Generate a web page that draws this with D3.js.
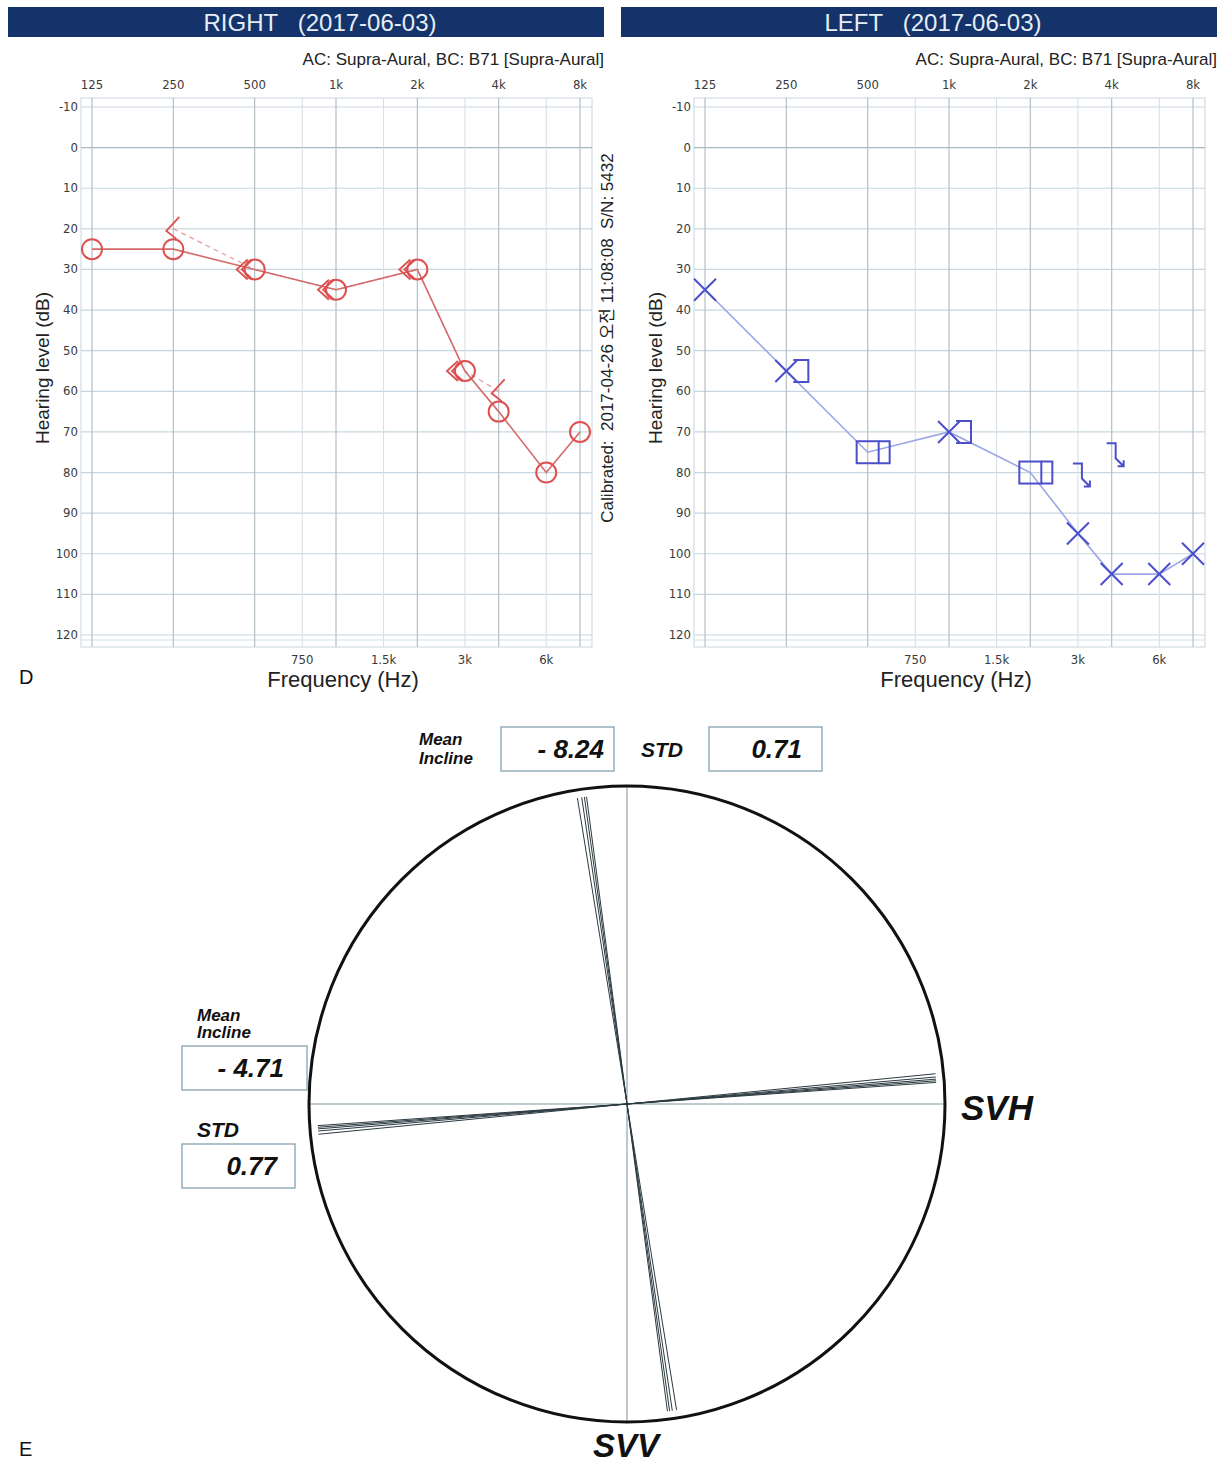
<!doctype html>
<html lang="en">
<head>
  <meta charset="utf-8" />
  <title>Audiogram and SVV / SVH</title>
  <script src="https://d3js.org/d3.v7.min.js"></script>
  <style>
    body { margin: 0; background: #fff; }
    .tick-lbl { font-family: "DejaVu Sans Condensed", "DejaVu Sans", sans-serif; font-stretch: condensed; font-size: 13px; fill: #3a3a3a; }
    .hdr { font-family: "Liberation Sans", Arial, sans-serif; font-size: 24px; fill: #e6edf5; }
    .sub { font-family: "Liberation Sans", Arial, sans-serif; font-size: 17px; fill: #222; }
    .axis-title { font-family: "Liberation Sans", Arial, sans-serif; font-size: 22px; fill: #222; }
    .ylab { font-family: "Liberation Sans", Arial, sans-serif; font-size: 19px; fill: #222; }
    .cal { font-family: "Liberation Sans", "Noto Sans CJK KR", sans-serif; font-size: 17px; fill: #222; }
    .bi { font-family: "Liberation Sans", Arial, sans-serif; font-weight: bold; font-style: italic; fill: #111; }
    .panel { font-family: "Liberation Sans", Arial, sans-serif; font-size: 20px; fill: #111; }
  </style>
</head>
<body>
<script>

// ---- data ----
var freqs = [125, 250, 500, 1000, 2000, 3000, 4000, 6000, 8000];
var topTicks = [125, 250, 500, 1000, 2000, 4000, 8000];
var topTickLabels = ["125", "250", "500", "1k", "2k", "4k", "8k"];
var midTicks = [750, 1500, 3000, 6000];
var midTickLabels = ["750", "1.5k", "3k", "6k"];
var dbTicks = [-10, 0, 10, 20, 30, 40, 50, 60, 70, 80, 90, 100, 110, 120];

var rightAC = [25, 25, 30, 35, 30, 55, 65, 80, 70];
var rightBC = [null, 20, 30, 35, 30, 55, 60, null, null];

var leftAC = [35, 55, 75, 70, 80, 95, 105, 105, 100];
var leftACMasked = [0, 0, 1, 0, 1, 0, 0, 0, 0];
var leftBCMasked = [null, 55, 75, 70, 80, 80, 75, null, null];
var leftBCNoResp = [0, 0, 0, 0, 0, 1, 1, 0, 0];

var svvAngles = [-7.5, -7.9, -8.4, -9.2];
var svhAngles = [-4.0, -4.3, -4.6, -5.0, -5.6];
var svvMean = "- 8.24", svvStd = "0.71";
var svhMean = "- 4.71", svhStd = "0.77";

var W = 1223, H = 1468;
var svg = d3.select("body").append("svg")
  .attr("width", W).attr("height", H);

// ---- audiogram panels ----
function panel(ox, title, ear) {
  var g = svg.append("g").attr("transform", "translate(" + ox + ",0)");

  var x = d3.scaleLog().base(2).domain([125, 8000]).range([92, 580]);
  var y = d3.scaleLinear().domain([-10, 120]).range([107, 635]);

  g.append("rect").attr("x", 8).attr("y", 7).attr("width", 596).attr("height", 30)
    .attr("fill", "#13336a");
  g.append("text").attr("class", "hdr").attr("x", 320).attr("y", 31)
    .attr("text-anchor", "middle").attr("xml:space", "preserve").text(title);
  g.append("text").attr("class", "sub").attr("x", 604).attr("y", 65)
    .attr("text-anchor", "end").text("AC: Supra-Aural, BC: B71 [Supra-Aural]");

  g.append("rect").attr("x", 81).attr("y", 98).attr("width", 511).attr("height", 549)
    .attr("fill", "none").attr("stroke", "#c9d6df");

  g.selectAll(".hg").data(dbTicks).enter().append("line")
    .attr("x1", 81).attr("x2", 592)
    .attr("y1", function(d) { return y(d); }).attr("y2", function(d) { return y(d); })
    .attr("stroke", function(d) { return d === 0 ? "#aab6be" : "#c9d6df"; })
    .attr("stroke-width", 1.2);
  g.append("line").attr("x1", 81).attr("x2", 592).attr("y1", y(120) + 5).attr("y2", y(120) + 5)
    .attr("stroke", "#d5dfe6");

  g.selectAll(".vg").data(topTicks).enter().append("line")
    .attr("x1", function(d) { return x(d); }).attr("x2", function(d) { return x(d); })
    .attr("y1", 98).attr("y2", 647).attr("stroke", "#b4c0c8").attr("stroke-width", 1.2);
  g.selectAll(".vm").data(midTicks).enter().append("line")
    .attr("x1", function(d) { return x(d); }).attr("x2", function(d) { return x(d); })
    .attr("y1", 98).attr("y2", 647).attr("stroke", "#d3dee6");

  g.selectAll(".tt").data(topTicks).enter().append("text").attr("class", "tick-lbl")
    .attr("x", function(d) { return x(d); }).attr("y", 89).attr("text-anchor", "middle")
    .text(function(d, i) { return topTickLabels[i]; });
  g.selectAll(".mt").data(midTicks).enter().append("text").attr("class", "tick-lbl")
    .attr("x", function(d) { return x(d); }).attr("y", 664).attr("text-anchor", "middle")
    .text(function(d, i) { return midTickLabels[i]; });
  g.selectAll(".yt").data(dbTicks).enter().append("text").attr("class", "tick-lbl")
    .attr("x", 78).attr("y", function(d) { return y(d) + 4; }).attr("text-anchor", "end")
    .text(function(d) { return d; });

  g.append("text").attr("class", "axis-title").attr("x", 343).attr("y", 687)
    .attr("text-anchor", "middle").text("Frequency (Hz)");
  g.append("text").attr("class", "ylab").attr("transform", "translate(49,368) rotate(-90)")
    .attr("text-anchor", "middle").text("Hearing level (dB)");

  var line = d3.line()
    .defined(function(d) { return d.v != null; })
    .x(function(d) { return x(d.f); }).y(function(d) { return y(d.v); });

  if (ear === "R") {
    var red = "#dd5050";
    var ac = freqs.map(function(f, i) { return { f: f, v: rightAC[i] }; });
    var bc = freqs.map(function(f, i) { return { f: f, v: rightBC[i], ac: rightAC[i] }; })
      .filter(function(d) { return d.v != null; });

    g.append("path").datum(bc).attr("d", line).attr("fill", "none")
      .attr("stroke", "#e39a9a").attr("stroke-width", 1.2).attr("stroke-dasharray", "5,4");
    g.append("path").datum(ac).attr("d", line).attr("fill", "none")
      .attr("stroke", "#d56a6a").attr("stroke-width", 1.6);

    g.selectAll(".ac").data(ac).enter().append("circle")
      .attr("cx", function(d) { return x(d.f); }).attr("cy", function(d) { return y(d.v); })
      .attr("r", 10).attr("fill", "none").attr("stroke", red).attr("stroke-width", 2);

    g.selectAll(".bc").data(bc).enter().append("path")
      .attr("d", function(d) {
        var cx = x(d.f), cy = y(d.v);
        if (d.v === d.ac) {
          var t = cx - 18;
          return "M" + (t + 11) + "," + (cy - 10) + "L" + t + "," + cy + "L" + (t + 11) + "," + (cy + 10) +
            "M" + (t + 16) + "," + (cy - 10) + "L" + (t + 5) + "," + cy + "L" + (t + 16) + "," + (cy + 10);
        }
        return "M" + (cx + 6) + "," + (cy - 12) + "L" + (cx - 7) + "," + (cy + 2) + "L" + (cx + 3) + "," + (cy + 10);
      })
      .attr("fill", "none").attr("stroke", red).attr("stroke-width", 1.8);
  } else {
    var blue = "#4b4fc9";
    var acL = freqs.map(function(f, i) { return { f: f, v: leftAC[i], m: leftACMasked[i] }; });
    var bcL = freqs.map(function(f, i) { return { f: f, v: leftBCMasked[i], nr: leftBCNoResp[i], ac: leftAC[i] }; })
      .filter(function(d) { return d.v != null; });

    g.append("path").datum(acL).attr("d", line).attr("fill", "none")
      .attr("stroke", "#9aa6e6").attr("stroke-width", 1.6);

    g.selectAll(".xm").data(acL.filter(function(d) { return !d.m; })).enter().append("path")
      .attr("d", function(d) {
        var cx = x(d.f), cy = y(d.v), s = 11;
        return "M" + (cx - s) + "," + (cy - s) + "L" + (cx + s) + "," + (cy + s) +
          "M" + (cx + s) + "," + (cy - s) + "L" + (cx - s) + "," + (cy + s);
      })
      .attr("stroke", blue).attr("stroke-width", 2).attr("fill", "none");

    g.selectAll(".sq").data(acL.filter(function(d) { return d.m; })).enter().append("rect")
      .attr("x", function(d) { return x(d.f) - 11; }).attr("y", function(d) { return y(d.v) - 11; })
      .attr("width", 22).attr("height", 22).attr("fill", "none")
      .attr("stroke", blue).attr("stroke-width", 2);

    g.selectAll(".br").data(bcL).enter().append("path")
      .attr("d", function(d) {
        var cx = x(d.f), cy = y(d.v);
        if (d.nr) {
          return "M" + (cx - 5) + "," + (cy - 9) + "H" + (cx + 4) + "V" + (cy + 6) +
            "L" + (cx + 12) + "," + (cy + 14) + "M" + (cx + 6) + "," + (cy + 14) + "H" + (cx + 12) + "V" + (cy + 8);
        }
        var l = d.ac === d.v && leftACMasked[freqs.indexOf(d.f)] ? cx + 11 : cx + 7;
        return "M" + l + "," + (cy - 11) + "H" + (cx + 22) + "V" + (cy + 11) + "H" + l;
      })
      .attr("fill", "none").attr("stroke", blue).attr("stroke-width", 2);
  }
  return g;
}

panel(0, "RIGHT   (2017-06-03)", "R");
panel(613, "LEFT   (2017-06-03)", "L");

svg.append("text").attr("class", "cal").attr("transform", "translate(613,338) rotate(-90)")
  .attr("text-anchor", "middle").attr("xml:space", "preserve")
  .text("Calibrated:  2017-04-26 오전 11:08:08  S/N: 5432");

svg.append("text").attr("class", "panel").attr("x", 19).attr("y", 684).text("D");
svg.append("text").attr("class", "panel").attr("x", 19).attr("y", 1456).text("E");

// ---- SVV / SVH circle ----
var cx = 627, cy = 1104, R = 318;
var rLine = d3.scaleLinear().domain([-1, 1]).range([-310, 310]);

svg.append("line").attr("x1", cx - R).attr("x2", cx + R).attr("y1", cy).attr("y2", cy)
  .attr("stroke", "#7f9aa6").attr("stroke-width", 1.2);
svg.append("line").attr("x1", cx).attr("x2", cx).attr("y1", cy - R).attr("y2", cy + R)
  .attr("stroke", "#8fa3ac").attr("stroke-width", 1.2);

svg.selectAll(".svv").data(svvAngles).enter().append("line")
  .attr("x1", function(a) { return cx + rLine(Math.sin(a * Math.PI / 180)); })
  .attr("y1", function(a) { return cy - rLine(Math.cos(a * Math.PI / 180)); })
  .attr("x2", function(a) { return cx - rLine(Math.sin(a * Math.PI / 180)); })
  .attr("y2", function(a) { return cy + rLine(Math.cos(a * Math.PI / 180)); })
  .attr("stroke", "#2b3a40").attr("stroke-width", 1);

svg.selectAll(".svh").data(svhAngles).enter().append("line")
  .attr("x1", function(a) { return cx - rLine(Math.cos(a * Math.PI / 180)); })
  .attr("y1", function(a) { return cy - rLine(Math.sin(a * Math.PI / 180)); })
  .attr("x2", function(a) { return cx + rLine(Math.cos(a * Math.PI / 180)); })
  .attr("y2", function(a) { return cy + rLine(Math.sin(a * Math.PI / 180)); })
  .attr("stroke", "#2b3a40").attr("stroke-width", 1);

svg.append("circle").attr("cx", cx).attr("cy", cy).attr("r", R)
  .attr("fill", "none").attr("stroke", "#111").attr("stroke-width", 3);

function box(x0, y0, w, h, txt, tx) {
  svg.append("rect").attr("x", x0).attr("y", y0).attr("width", w).attr("height", h)
    .attr("fill", "#fff").attr("stroke", "#86a3b2").attr("stroke-width", 1.3);
  svg.append("text").attr("class", "bi").attr("x", tx).attr("y", y0 + h / 2 + 9)
    .attr("text-anchor", "end").style("font-size", "26px").text(txt);
}

svg.append("text").attr("class", "bi").attr("x", 419).attr("y", 745).style("font-size", "17px").text("Mean");
svg.append("text").attr("class", "bi").attr("x", 419).attr("y", 764).style("font-size", "17px").text("Incline");
box(501, 727, 113, 44, svvMean, 604);
svg.append("text").attr("class", "bi").attr("x", 641).attr("y", 757).style("font-size", "21px").text("STD");
box(709, 727, 113, 44, svvStd, 802);

svg.append("text").attr("class", "bi").attr("x", 197).attr("y", 1021).style("font-size", "17px").text("Mean");
svg.append("text").attr("class", "bi").attr("x", 197).attr("y", 1038).style("font-size", "17px").text("Incline");
box(182, 1046, 125, 44, svhMean, 284);
svg.append("text").attr("class", "bi").attr("x", 197).attr("y", 1137).style("font-size", "21px").text("STD");
box(182, 1144, 113, 44, svhStd, 277);

svg.append("text").attr("class", "bi").attr("x", 961).attr("y", 1120).style("font-size", "35px").text("SVH");
svg.append("text").attr("class", "bi").attr("x", 626).attr("y", 1457).attr("text-anchor", "middle")
  .style("font-size", "33px").text("SVV");

</script>
</body>
</html>
